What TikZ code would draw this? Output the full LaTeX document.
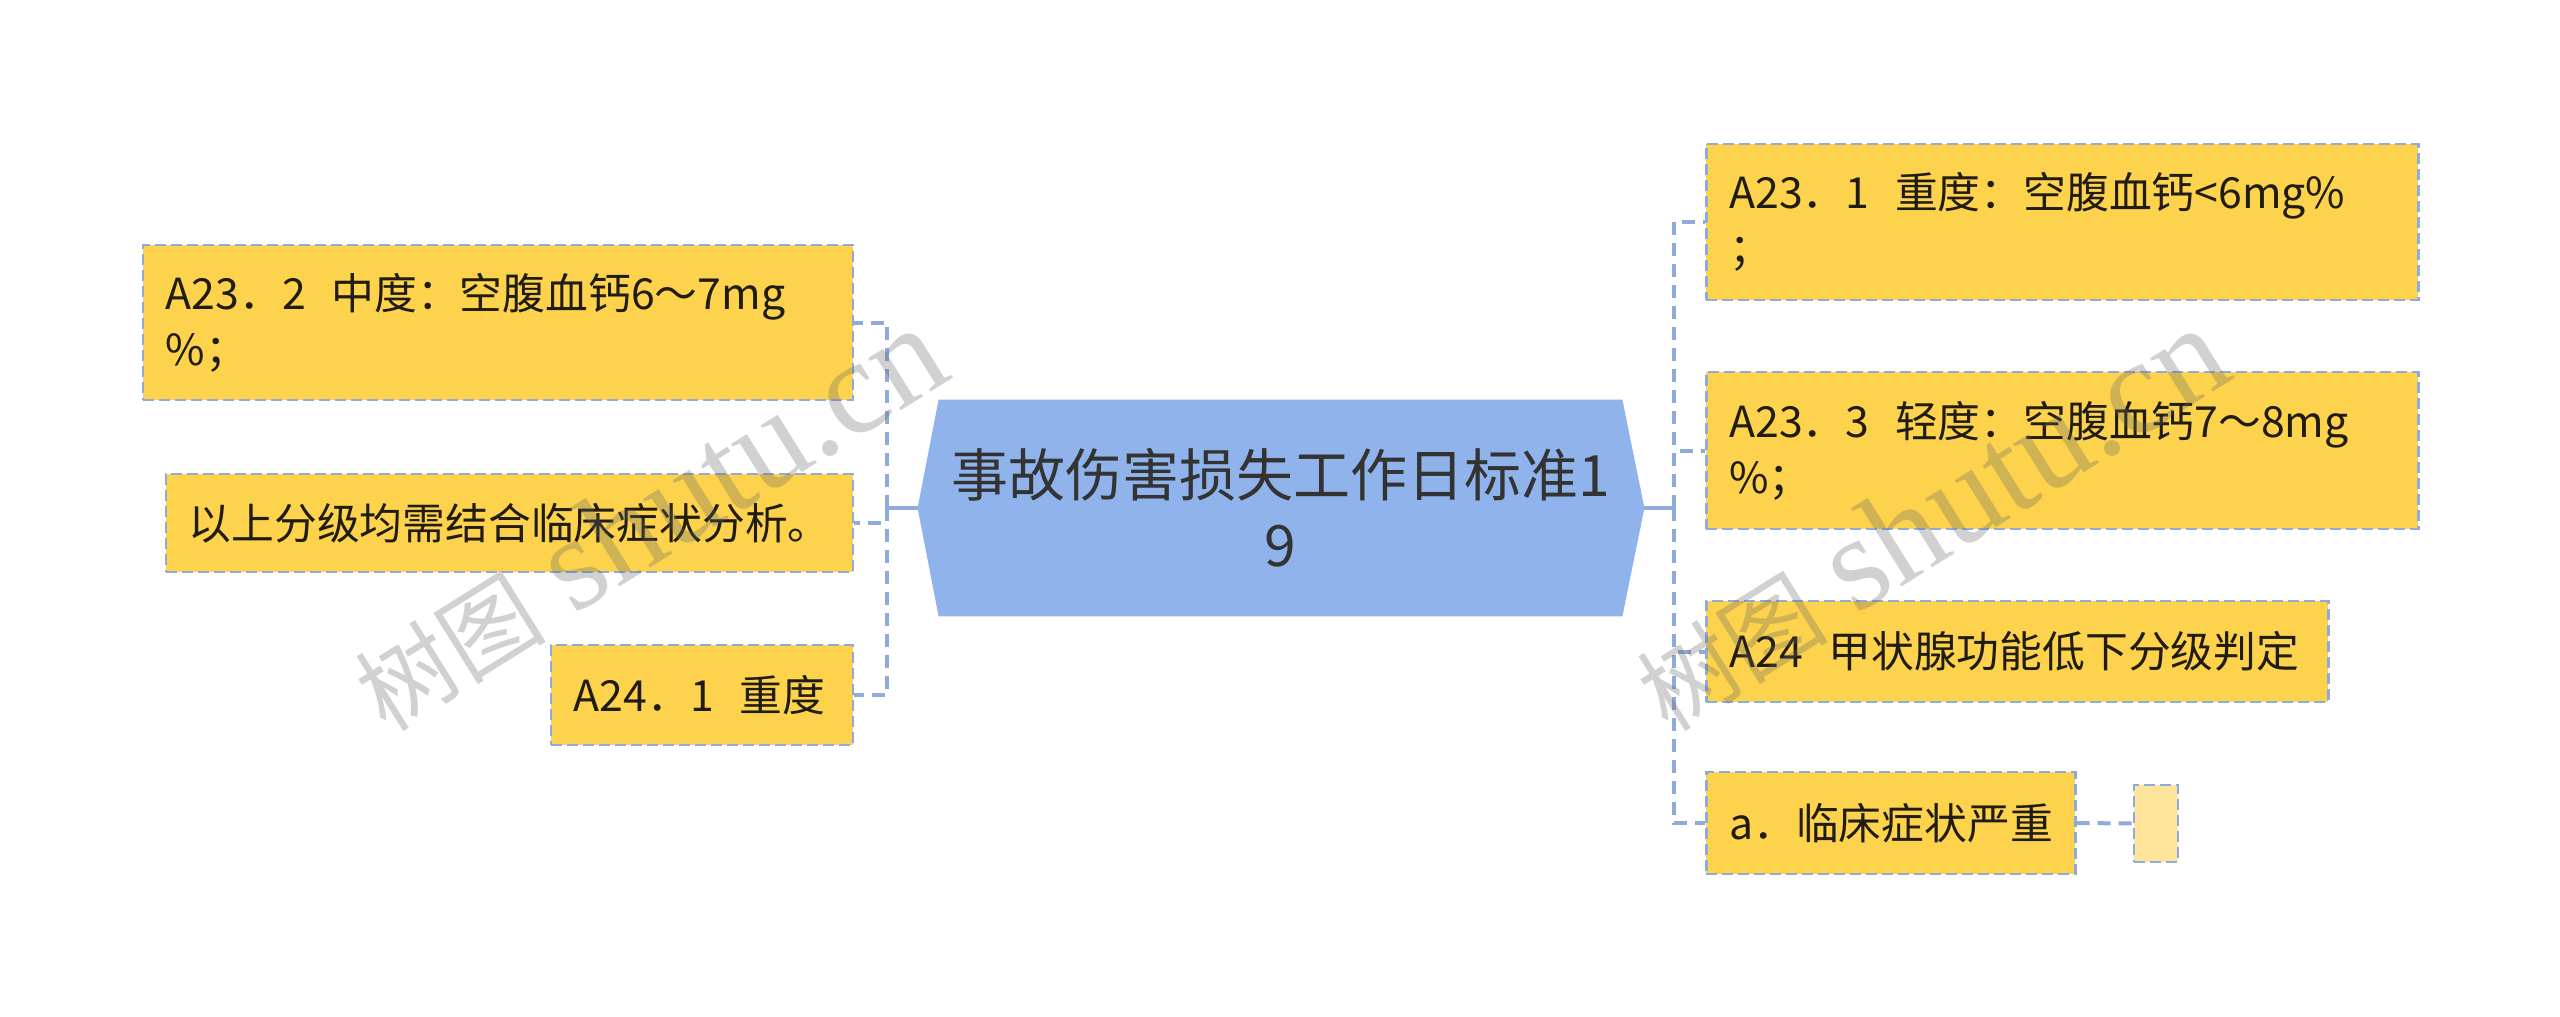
\documentclass[tikz,border=0pt]{standalone}
\usepackage{fontspec}
\setmainfont{Noto Sans CJK SC}
\newfontfamily\wmlatin{Liberation Serif}
\usepackage{tikz}
\usetikzlibrary{positioning,backgrounds,calc}

\definecolor{nodeyellow}{RGB}{253,211,77}
\definecolor{paleyellow}{RGB}{254,229,155}
\definecolor{linkblue}{RGB}{143,170,220}
\definecolor{rootblue}{RGB}{143,179,234}
\definecolor{textdark}{RGB}{32,28,18}

\begin{document}
\begin{tikzpicture}[x=0.5pt,y=-0.5pt,
  leaf/.style={shape=rectangle, fill=nodeyellow, draw=linkblue, line width=1.25pt, dash pattern=on 5.5pt off 2.5pt, text=textdark, font=\fontsize{21.4}{28}\selectfont, inner xsep=11.5pt, inner ysep=0pt, align=left},
  link/.style={draw=linkblue, line width=2pt, dash pattern=on 6.5pt off 4pt},
  stem/.style={draw=linkblue, line width=2pt},
  wmark/.style={text=black!60, opacity=0.3, rotate=32, inner sep=0pt}]
  \useasboundingbox (0,0) rectangle (2560,1017);

  \node[shape=rectangle, minimum width=341.5pt, minimum height=108pt, inner sep=0pt, align=center, text=black!80, font=\fontsize{28.5}{35}\selectfont] (root) at (1280.5,508) {事故伤害损失工作日标准1\\9};
  \coordinate (rootL) at ([xshift=-10.5pt]root.west);
  \coordinate (rootR) at ([xshift=11pt]root.east);
  \begin{scope}[on background layer]
    \fill[rootblue] (root.north west) -- (root.north east) -- (rootR) -- (root.south east) -- (root.south west) -- (rootL) -- cycle;
  \end{scope}

  \node[leaf, anchor=east, text width=332pt, minimum height=77.5pt] (n232) at (854,322.5) {A23．2\hspace{0.6em}中度：空腹血钙6～7mg\\\%；};
  \node[leaf, anchor=east, text width=320.5pt, minimum height=49pt] (nall) at (854,523) {以上分级均需结合临床症状分析。};
  \node[leaf, anchor=east, text width=128pt, minimum height=50pt] (n241) at (854,695) {A24．1\hspace{0.6em}重度};

  \node[leaf, anchor=west, text width=333pt, minimum height=78pt] (n231) at (1705,222) {A23．1\hspace{0.6em}重度：空腹血钙<6mg\%\\；};
  \node[leaf, anchor=west, text width=333pt, minimum height=78.5pt] (n233) at (1705,450.5) {A23．3\hspace{0.6em}轻度：空腹血钙7～8mg\\\%；};
  \node[leaf, anchor=west, text width=288pt, minimum height=50.5pt] (n24) at (1705,651.5) {A24\hspace{0.6em}甲状腺功能低下分级判定};
  \node[leaf, anchor=west, text width=161.5pt, minimum height=51pt] (na) at (1705,823) {a．临床症状严重};
  \node[leaf, fill=paleyellow, minimum width=22pt, minimum height=38.5pt, inner sep=0pt] (nblank) at (2156,823.5) {};

  \coordinate (lj) at (887,508);
  \coordinate (rj) at (1674,508);
  \draw[stem] (rootL) -- (lj);
  \draw[stem] (rootR) -- (rj);
  \foreach \n in {n232,nall,n241}
    \draw[link] (lj) |- (\n.east);
  \foreach \n in {n231,n233,n24,na}
    \draw[link] (rj) |- (\n.west);
  \draw[link] (na.east) -- (nblank.west);

  \node[wmark] (wmA) at (648,519) {\fontsize{48}{48}\selectfont 树图\hspace{0.3em}{\wmlatin\fontsize{67}{67}\selectfont shutu.cn}};
  \node[wmark] (wmB) at (1930,519) {\fontsize{48}{48}\selectfont 树图\hspace{0.3em}{\wmlatin\fontsize{67}{67}\selectfont shutu.cn}};
\end{tikzpicture}
\end{document}
